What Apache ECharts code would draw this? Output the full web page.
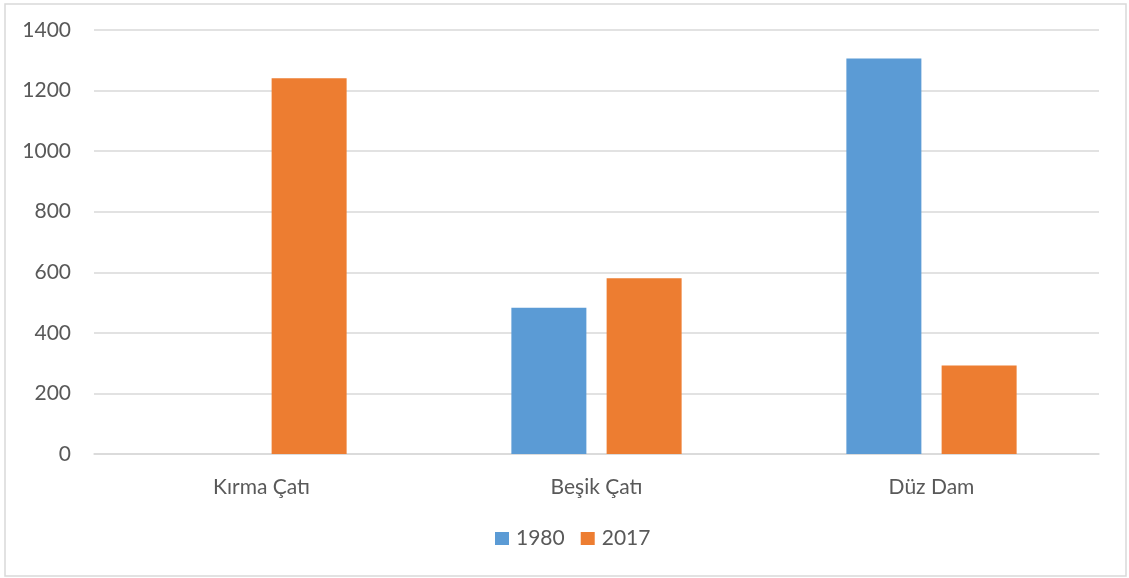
<!DOCTYPE html>
<html>
<head>
<meta charset="utf-8">
<script src="https://cdn.jsdelivr.net/npm/echarts@6/dist/echarts.min.js"></script>
<style>
  html, body { margin: 0; padding: 0; background: #fff; }
  #chart { width: 1129px; height: 578px; }
</style>
</head>
<body>
<div id="chart"></div>
<script>
// Roof types and counts for each year
const categories = ['Kırma Çatı', 'Beşik Çatı', 'Düz Dam'];
const values1980 = [0, 483, 1306];
const values2017 = [1241, 580, 292];
const yTicks = { min: 0, max: 1400, interval: 200 };

const font = 'Lato, "Open Sans", "DejaVu Sans", sans-serif';
const textColor = '#595959';
const lineColor = '#d9d9d9';

const chart = echarts.init(document.getElementById('chart'), null, { renderer: 'canvas' });
chart.setOption({
  animation: false,
  backgroundColor: '#ffffff',
  graphic: [{
    type: 'rect',
    shape: { x: 5, y: 4, width: 1121, height: 572 },
    style: { fill: 'none', stroke: lineColor, lineWidth: 1.5 },
    silent: true
  }],
  grid: { left: 94, right: 30, top: 30, bottom: 124, containLabel: false },
  legend: {
    data: ['1980', '2017'],
    bottom: 29,
    left: 495,
    padding: 0,
    icon: 'rect',
    itemWidth: 14,
    itemHeight: 13,
    itemGap: 16,
    textStyle: { color: textColor, fontSize: 21, fontFamily: font, padding: [0, 0, 0, 2] }
  },
  xAxis: {
    type: 'category',
    data: categories,
    axisLine: { lineStyle: { color: lineColor, width: 1.5 } },
    axisTick: { show: false },
    axisLabel: { color: textColor, fontSize: 21, fontFamily: font, margin: 23 }
  },
  yAxis: {
    type: 'value',
    min: yTicks.min,
    max: yTicks.max,
    interval: yTicks.interval,
    axisLine: { show: false },
    axisTick: { show: false },
    axisLabel: {
      color: textColor, fontSize: 21, fontFamily: font, margin: 23,
      formatter: (v) => String(v)
    },
    splitLine: { lineStyle: { color: lineColor, width: 1.5 } }
  },
  series: [
    {
      name: '1980',
      type: 'bar',
      data: values1980,
      barWidth: 75,
      barGap: '27%',
      itemStyle: { color: '#5B9BD5' }
    },
    {
      name: '2017',
      type: 'bar',
      data: values2017,
      barWidth: 75,
      itemStyle: { color: '#ED7D31' }
    }
  ]
});
</script>
</body>
</html>
